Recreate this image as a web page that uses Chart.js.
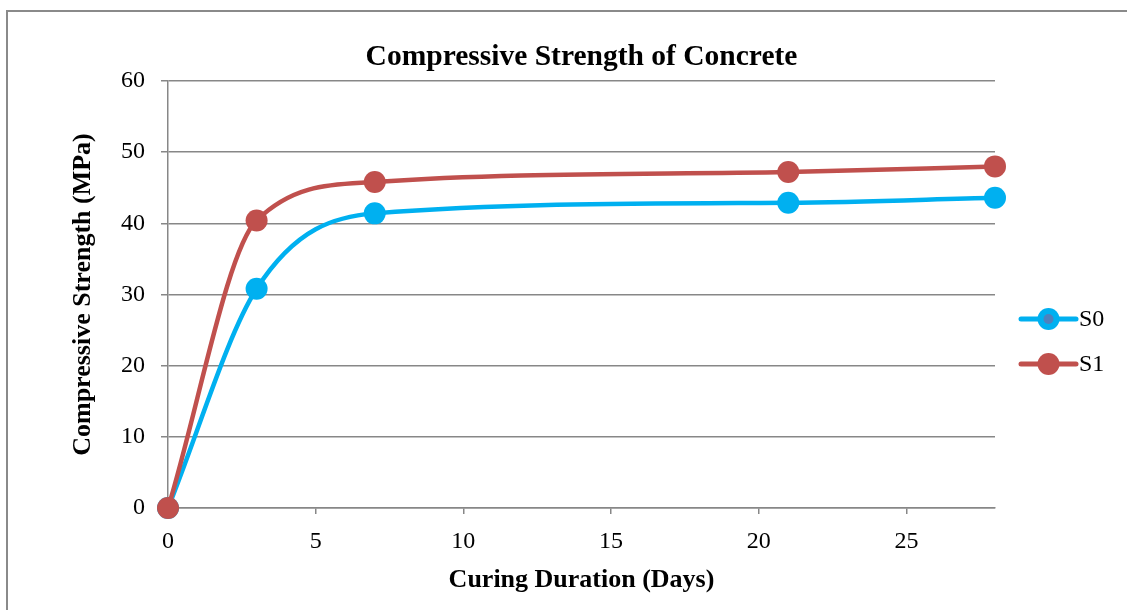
<!DOCTYPE html>
<html>
<head>
<meta charset="utf-8">
<style>
  html, body { margin: 0; padding: 0; background: #ffffff; }
  #wrap { width: 1127px; height: 610px; position: relative; }
</style>
<script src="https://cdn.jsdelivr.net/npm/chart.js@4.4.1/dist/chart.umd.min.js"></script>
</head>
<body>
<div id="wrap"><canvas id="c" width="1127" height="610"></canvas></div>
<script>
// Curing age in days and measured compressive strength (MPa)
const curingDays = [0, 3, 7, 21, 28];
const strengthS0 = [0, 30.8, 41.4, 42.9, 43.6];
const strengthS1 = [0, 40.4, 45.8, 47.2, 48.0];
const seriesNames = ['S0', 'S1'];
const xTickValues = [0, 5, 10, 15, 20, 25];

const COLOR_S0 = '#00B0F0';
const COLOR_S1 = '#C0504D';
const GRID = '#878787';
const SERIF = '"Liberation Serif", "Times New Roman", serif';

function toPoints(xs, ys) {
  return xs.map((x, i) => ({ x: x, y: ys[i] }));
}

// Outer frame around the chart
const framePlugin = {
  id: 'frame',
  beforeDraw(chart) {
    const ctx = chart.ctx;
    ctx.save();
    ctx.fillStyle = '#ffffff';
    ctx.fillRect(0, 0, chart.width, chart.height);
    ctx.strokeStyle = '#8a8a8a';
    ctx.lineWidth = 2;
    ctx.strokeRect(7, 11, chart.width + 20, chart.height + 20);
    ctx.restore();
  }
};

// Line-and-marker legend to the right of the plot
const sideLegend = {
  id: 'sideLegend',
  afterDraw(chart) {
    const ctx = chart.ctx;
    const area = chart.chartArea;
    const x0 = area.right + 26;
    const lineLen = 55;
    const rowGap = 45;
    const midY = (area.top + area.bottom) / 2 + 47;
    const n = chart.data.datasets.length;
    ctx.save();
    chart.data.datasets.forEach((ds, i) => {
      const y = midY + (i - (n - 1) / 2) * rowGap;
      ctx.strokeStyle = ds.borderColor;
      ctx.lineWidth = 5;
      ctx.lineCap = 'round';
      ctx.beginPath();
      ctx.moveTo(x0, y);
      ctx.lineTo(x0 + lineLen, y);
      ctx.stroke();
      ctx.fillStyle = ds.backgroundColor;
      ctx.beginPath();
      ctx.arc(x0 + lineLen / 2, y, 11, 0, Math.PI * 2);
      ctx.fill();
      if (ds.legendInner) {
        ctx.fillStyle = ds.legendInner;
        ctx.beginPath();
        ctx.arc(x0 + lineLen / 2, y, 5, 0, Math.PI * 2);
        ctx.fill();
      }
      ctx.fillStyle = '#000000';
      ctx.font = '24px ' + SERIF;
      ctx.textBaseline = 'middle';
      ctx.textAlign = 'left';
      ctx.fillText(ds.label, x0 + lineLen + 3, y + 1);
    });
    ctx.restore();
  }
};

const commonLine = {
  borderWidth: 4.5,
  pointRadius: 11,
  pointHoverRadius: 11,
  pointBorderWidth: 0,
  cubicInterpolationMode: 'monotone',
  clip: false
};

new Chart(document.getElementById('c'), {
  type: 'line',
  data: {
    datasets: [
      Object.assign({
        label: seriesNames[0],
        data: toPoints(curingDays, strengthS0),
        borderColor: COLOR_S0,
        backgroundColor: COLOR_S0,
        legendInner: '#4F81BD',
        order: 1
      }, commonLine),
      Object.assign({
        label: seriesNames[1],
        data: toPoints(curingDays, strengthS1),
        borderColor: COLOR_S1,
        backgroundColor: COLOR_S1,
        order: 0
      }, commonLine)
    ]
  },
  options: {
    responsive: false,
    animation: false,
    devicePixelRatio: 1,
    layout: { padding: { top: 0, right: 132, bottom: 0, left: 0 } },
    plugins: {
      legend: { display: false },
      tooltip: { enabled: false },
      title: {
        display: true,
        fullSize: false,
        text: 'Compressive Strength of Concrete',
        color: '#000000',
        font: { family: SERIF, size: 29.5, weight: 'bold', lineHeight: 1.2 },
        padding: { top: 40, bottom: 5.6 }
      }
    },
    scales: {
      x: {
        type: 'linear',
        min: 0,
        max: 28,
        afterFit(scale) { scale.height = 102; },
        afterBuildTicks(scale) { scale.ticks = xTickValues.map(v => ({ value: v })); },
        grid: { display: true, drawOnChartArea: false, drawTicks: true, tickLength: 6, color: GRID, lineWidth: 1.5 },
        border: { display: true, color: GRID, width: 1.5 },
        ticks: { color: '#000000', font: { family: SERIF, size: 24 }, padding: 13, maxRotation: 0 },
        title: {
          display: true,
          text: 'Curing Duration (Days)',
          color: '#000000',
          font: { family: SERIF, size: 26, weight: 'bold', lineHeight: 1.2 },
          padding: { top: 14.5, bottom: 14.5 }
        }
      },
      y: {
        min: 0,
        max: 60,
        afterFit(scale) { scale.width = 168; },
        grid: { color: GRID, lineWidth: 1.5, drawTicks: true, tickLength: 7 },
        border: { display: true, color: GRID, width: 1.5 },
        ticks: { stepSize: 10, color: '#000000', font: { family: SERIF, size: 24 }, padding: 16 },
        title: {
          display: true,
          text: 'Compressive Strength (MPa)',
          color: '#000000',
          font: { family: SERIF, size: 26, weight: 'bold', lineHeight: 1.2 },
          padding: { top: 67.5, bottom: 67.5 }
        }
      }
    }
  },
  plugins: [framePlugin, sideLegend]
});
</script>
</body>
</html>
